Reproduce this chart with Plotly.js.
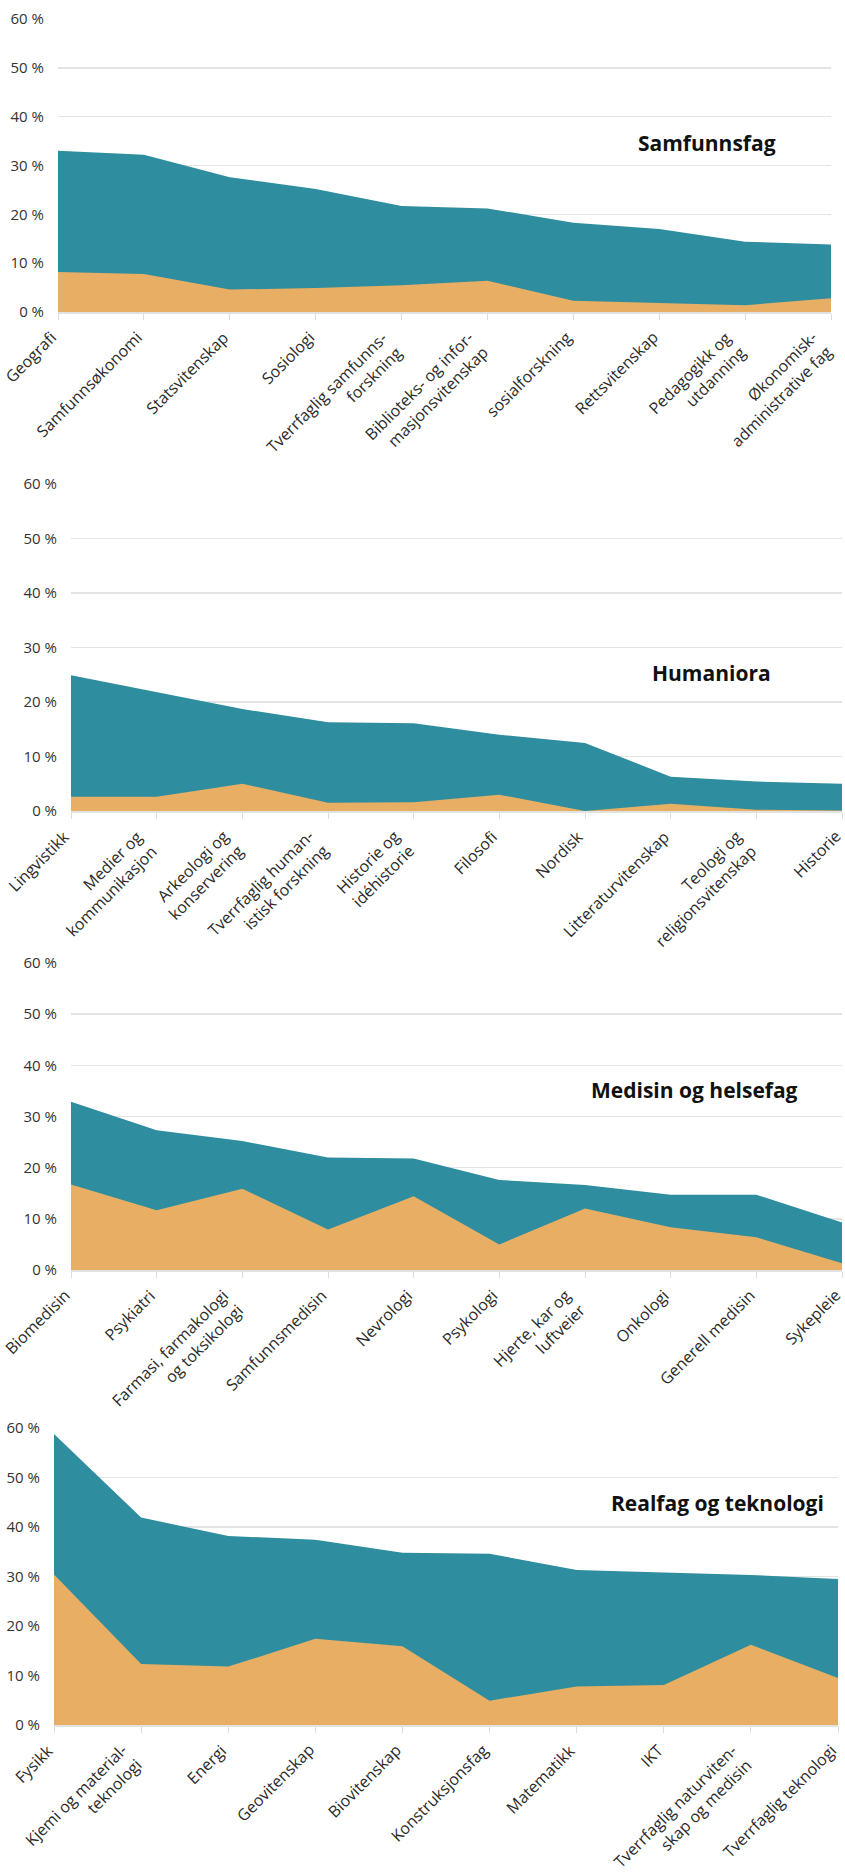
<!DOCTYPE html>
<html>
<head>
<meta charset="utf-8">
<script src="https://cdn.plot.ly/plotly-3.0.1.min.js"></script>
<style>
html,body{margin:0;padding:0;background:#fff;}
#chart{width:845px;height:1874px;}
</style>
</head>
<body>
<div id="chart"></div>
<script>
// ---- Data ----
const titles = ["Samfunnsfag", "Humaniora", "Medisin og helsefag", "Realfag og teknologi"];

const samfunnCats = ["Geografi", "Samfunnsøkonomi", "Statsvitenskap", "Sosiologi",
  "Tverrfaglig samfunns-<br>forskning", "Biblioteks- og infor-<br>masjonsvitenskap",
  "sosialforskning", "Rettsvitenskap", "Pedagogikk og<br>utdanning", "Økonomisk-<br>administrative fag"];
const samfunnTotal = [33.0, 32.2, 27.6, 25.2, 21.7, 21.2, 18.3, 17.0, 14.4, 13.8];
const samfunnOrange = [8.2, 7.8, 4.6, 4.9, 5.5, 6.4, 2.3, 1.8, 1.4, 2.8];

const humCats = ["Lingvistikk", "Medier og<br>kommunikasjon", "Arkeologi og<br>konservering",
  "Tverrfaglig human-<br>istisk forskning", "Historie og<br>idéhistorie", "Filosofi", "Nordisk",
  "Litteraturvitenskap", "Teologi og<br>religionsvitenskap", "Historie"];
const humTotal = [24.9, 21.8, 18.7, 16.3, 16.1, 14.0, 12.5, 6.3, 5.4, 5.0];
const humOrange = [2.6, 2.6, 5.0, 1.5, 1.6, 3.0, 0.0, 1.35, 0.25, 0.1];

const medCats = ["Biomedisin", "Psykiatri", "Farmasi, farmakologi<br>og toksikologi", "Samfunnsmedisin",
  "Nevrologi", "Psykologi", "Hjerte, kar og<br>luftveier", "Onkologi", "Generell medisin", "Sykepleie"];
const medTotal = [32.9, 27.3, 25.2, 22.0, 21.8, 17.6, 16.6, 14.7, 14.7, 9.3];
const medOrange = [16.7, 11.7, 15.9, 7.9, 14.4, 5.0, 12.0, 8.35, 6.4, 1.3];

const realCats = ["Fysikk", "Kjemi og material-<br>teknologi", "Energi", "Geovitenskap", "Biovitenskap",
  "Konstruksjonsfag", "Matematikk", "IKT", "Tverrfaglig naturviten-<br>skap og medisin", "Tverrfaglig teknologi"];
const realTotal = [58.8, 41.9, 38.2, 37.4, 34.8, 34.6, 31.3, 30.8, 30.3, 29.5];
const realOrange = [30.4, 12.3, 11.8, 17.4, 15.9, 4.9, 7.8, 8.1, 16.2, 9.5];

const yTickVals = [0, 10, 20, 30, 40, 50, 60];

// ---- Styling ----
const TEAL = "#2e8d9e";
const ORANGE = "#e8ae63";
const W = 845, H = 1874;
const FONT = "Open Sans, sans-serif";

const panels = [
  {cats: samfunnCats, total: samfunnTotal, orange: samfunnOrange, xl: 58, xr: 831, yTop: 19, yBot: 312, tx: 778, ty: 143},
  {cats: humCats, total: humTotal, orange: humOrange, xl: 71, xr: 842, yTop: 484, yBot: 811, tx: 773, ty: 673},
  {cats: medCats, total: medTotal, orange: medOrange, xl: 71, xr: 842, yTop: 963, yBot: 1270, tx: 800, ty: 1090},
  {cats: realCats, total: realTotal, orange: realOrange, xl: 54, xr: 838, yTop: 1428, yBot: 1725, tx: 826, ty: 1503}
];

const data = [];
const layout = {
  width: W, height: H,
  margin: {l: 0, r: 0, t: 0, b: 0},
  paper_bgcolor: "#fff", plot_bgcolor: "#fff",
  showlegend: false,
  hovermode: false,
  font: {family: FONT, color: "#333"},
  annotations: []
};

panels.forEach((p, i) => {
  const n = i === 0 ? "" : String(i + 1);
  const xa = "x" + n, ya = "y" + n;
  data.push({
    type: "scatter", mode: "lines", x: p.cats, y: p.total, xaxis: xa, yaxis: ya,
    fill: "tozeroy", fillcolor: TEAL, line: {width: 0, color: TEAL}
  });
  data.push({
    type: "scatter", mode: "lines", x: p.cats, y: p.orange, xaxis: xa, yaxis: ya,
    fill: "tozeroy", fillcolor: ORANGE, line: {width: 0, color: ORANGE}
  });
  layout["xaxis" + n] = {
    domain: [p.xl / W, p.xr / W],
    anchor: ya,
    type: "category",
    range: [0, p.cats.length - 1],
    ticks: "outside", ticklen: 6, tickwidth: 1, tickcolor: "#dcdcdc",
    showticklabels: false,
    showgrid: false, zeroline: false,
    showline: true, linecolor: "#e2e2e2", linewidth: 2,
    fixedrange: true
  };
  layout["yaxis" + n] = {
    domain: [1 - p.yBot / H, 1 - p.yTop / H],
    anchor: xa,
    range: [0, 60],
    tickvals: yTickVals,
    ticktext: yTickVals.map(v => v + " %"),
    ticks: "outside", ticklen: 10, tickcolor: "rgba(0,0,0,0)",
    tickfont: {family: FONT, size: 15, color: "#333"},
    showgrid: true, gridcolor: "#e4e4e4", gridwidth: 1.5,
    zeroline: false, showline: false,
    fixedrange: true
  };
  // rotated category labels, positioned on the category axis
  p.cats.forEach(c => {
    const multi = c.indexOf("<br>") >= 0;
    layout.annotations.push({
      xref: xa, yref: "paper",
      x: c, y: 1 - (p.yBot + 12) / H,
      xanchor: "right", yanchor: "top",
      xshift: multi ? 8 : 6,
      textangle: -45,
      text: c,
      showarrow: false,
      align: "right",
      font: {family: FONT, size: 16, color: "#2a2a2a"}
    });
  });
  layout.annotations.push({
    xref: "paper", yref: "paper",
    x: p.tx / W, y: 1 - p.ty / H,
    xanchor: "right", yanchor: "middle",
    text: "<b>" + titles[i] + "</b>",
    showarrow: false,
    font: {family: FONT, size: 21, color: "#111"}
  });
});

Plotly.newPlot("chart", data, layout, {displayModeBar: false, staticPlot: true});
</script>
</body>
</html>
